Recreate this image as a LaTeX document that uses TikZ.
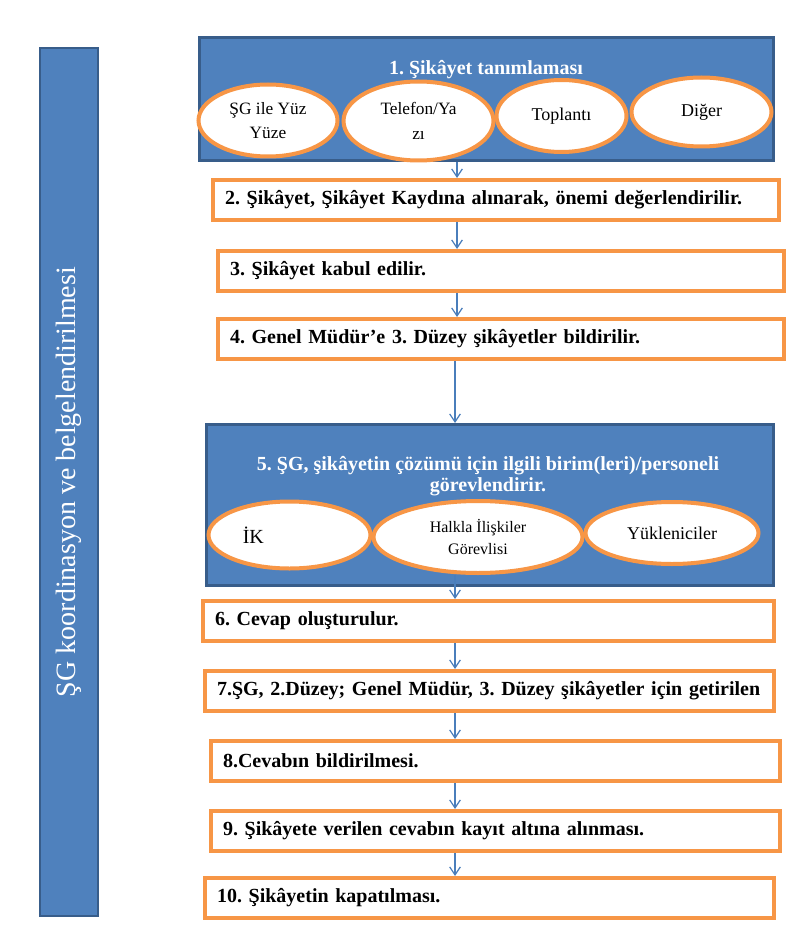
\documentclass[tikz,border=0pt]{standalone}
\usepackage{fontspec}
\setmainfont{Liberation Serif}
\usetikzlibrary{shapes.geometric,arrows.meta}
\definecolor{sgblue}{HTML}{4F81BD}
\definecolor{sgframe}{HTML}{385D8A}
\definecolor{sgorange}{HTML}{F79646}
\definecolor{sgarrow}{HTML}{4A7EBB}
\frenchspacing
\tikzset{
  stepbox/.style={draw=sgorange,line width=3pt,fill=white,anchor=north west,
    minimum height=30pt,text width=#1,inner xsep=9pt,inner ysep=0pt,align=left,
    font=\bfseries\fontsize{15}{17}\selectfont},
  groupbox/.style={draw=sgframe,line width=2.2pt,fill=sgblue,anchor=north west,inner sep=0pt},
  grouptitle/.style={text=white,align=center,font=\bfseries\fontsize{15}{15.5}\selectfont},
  channel/.style={ellipse,draw=sgorange,line width=3pt,fill=white,inner sep=0pt,
    align=center,font=\fontsize{13}{18.5}\selectfont},
  flow/.style={sgarrow,line width=0.9pt,-{Straight Barb[length=6pt,width=8pt]}}
}
\begin{document}
\begin{tikzpicture}[x=0.75pt,y=-0.75pt]
  \useasboundingbox[fill=white] (0,0) rectangle (799,934);
  \node[groupbox,anchor=center,rotate=90,minimum width=651pt,minimum height=43.5pt,
    text=white,font=\fontsize{21}{24}\selectfont] (side) at (69,482) {ŞG koordinasyon ve belgelendirilmesi};

  \node[groupbox,minimum width=430.5pt,minimum height=92.25pt] (g1) at (198,36) {};
  \node[grouptitle] (t1) at (486,70) {1. Şikâyet tanımlaması};
  \node[channel,minimum width=104.25pt,minimum height=54pt] (e1) at (268,120.5) {ŞG ile Yüz\\Yüze};
  \node[channel,minimum width=112.5pt,minimum height=59.25pt] (e2) at (418.5,121) {Telefon/Ya\\zı};
  \node[channel,minimum width=97.5pt,minimum height=54pt,font=\fontsize{13.5}{18}\selectfont] (e3) at (561.5,116) {Toplantı};
  \node[channel,minimum width=105pt,minimum height=51.75pt,font=\fontsize{13.5}{18}\selectfont] (e4) at (701.5,112) {Diğer};

  \node[stepbox=406.5pt] (b2) at (211,178) {2. Şikâyet, Şikâyet Kaydına alınarak, önemi değerlendirilir.};
  \node[stepbox=406.5pt] (b3) at (216,249) {3. Şikâyet kabul edilir.};
  \node[stepbox=406.5pt] (b4) at (216,317) {4. Genel Müdür’e 3. Düzey şikâyetler bildirilir.};

  \node[groupbox,minimum width=425.25pt,minimum height=120.75pt] (g5) at (205,423) {};
  \node[grouptitle] (t5) at (488,476) {5. ŞG, şikâyetin çözümü için ilgili birim(leri)/personeli\\görevlendirir.};
  \node[channel,minimum width=121.5pt,minimum height=50.25pt,text width=70pt,align=left,
    font=\fontsize{15}{18}\selectfont] (h1) at (289.5,535) {İK\\[8pt]};
  \node[channel,minimum width=156.75pt,minimum height=54pt,font=\fontsize{12}{16.5}\selectfont] (h2) at (478,537) {Halkla İlişkiler\\Görevlisi};
  \node[channel,minimum width=129.75pt,minimum height=46.5pt,font=\fontsize{13.5}{16}\selectfont] (h3) at (672,533) {Yükleniciler};

  \node[stepbox=410.25pt] (b6) at (201,599) {6. Cevap oluşturulur.};
  \node[stepbox=408.75pt] (b7) at (203,669) {\mbox{7.ŞG, 2.Düzey; Genel Müdür, 3. Düzey şikâyetler için getirilen}};
  \node[stepbox=408.75pt] (b8) at (209,739) {8.Cevabın bildirilmesi.};
  \node[stepbox=408.75pt] (b9) at (209,809) {9. Şikâyete verilen cevabın kayıt altına alınması.};
  \node[stepbox=408.75pt] (b10) at (203,876) {10. Şikâyetin kapatılması.};

  \coordinate (axisa) at (457,0);
  \coordinate (axisb) at (455,0);
  \draw[flow] (g1.south -| axisa) -- (b2.north -| axisa);
  \draw[flow] (b2.south -| axisa) -- (b3.north -| axisa);
  \draw[flow] (b3.south -| axisa) -- (b4.north -| axisa);
  \draw[flow] (b4.south -| axisb) -- (g5.north -| axisb);
  \draw[flow] (h2.south -| axisb) -- (b6.north -| axisb);
  \draw[flow] (b6.south -| axisb) -- (b7.north -| axisb);
  \draw[flow] (b7.south -| axisb) -- (b8.north -| axisb);
  \draw[flow] (b8.south -| axisb) -- (b9.north -| axisb);
  \draw[flow] (b9.south -| axisb) -- (b10.north -| axisb);
\end{tikzpicture}
\end{document}
